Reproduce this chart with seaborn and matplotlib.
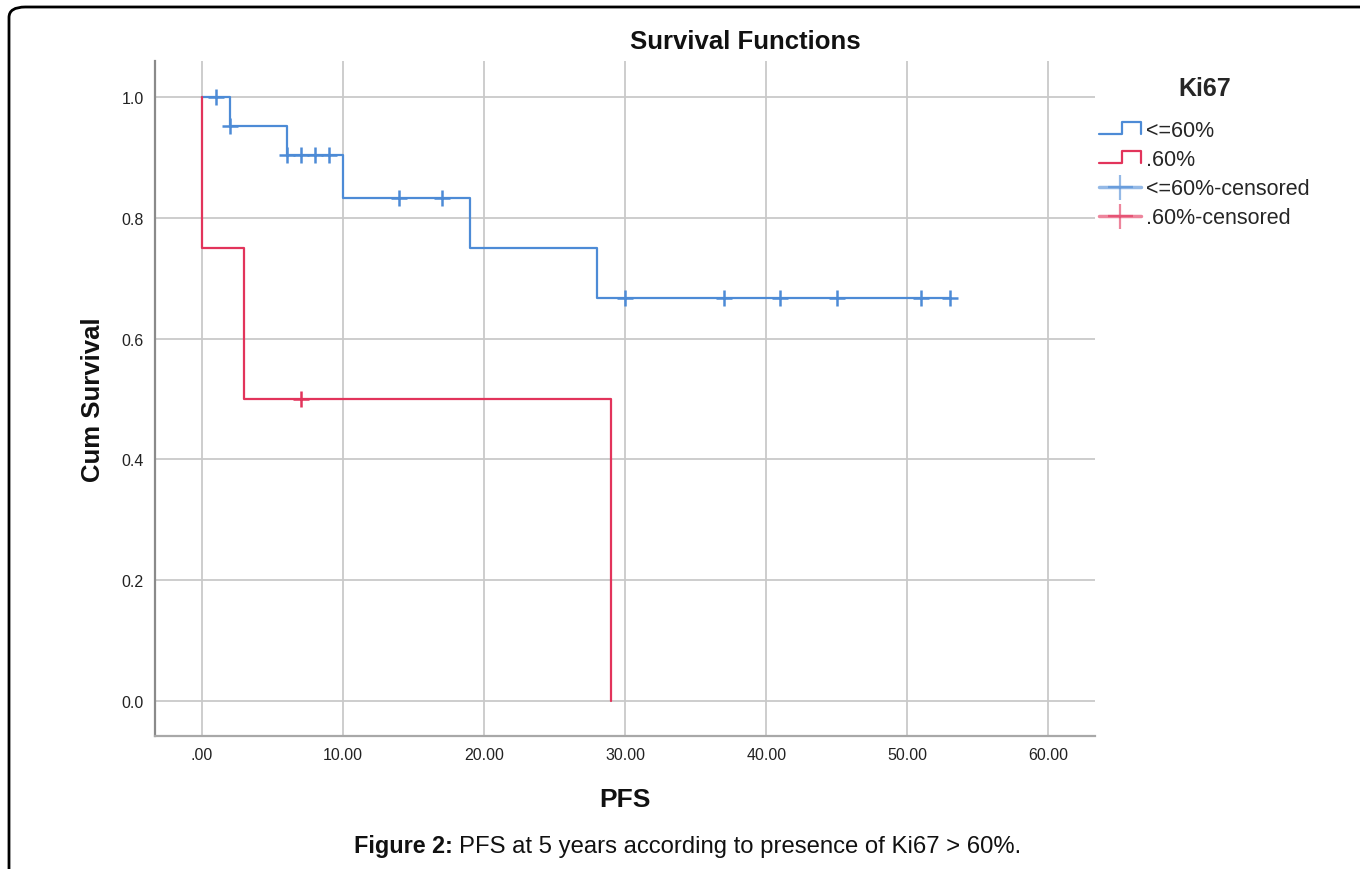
import matplotlib
matplotlib.use("Agg")
import matplotlib.pyplot as plt
import seaborn as sns
import pandas as pd
from matplotlib.lines import Line2D
from matplotlib.legend_handler import HandlerBase
from matplotlib.patches import FancyBboxPatch

# ---- data ----
low_times = [0, 2, 6, 10, 19, 28, 53]
low_surv = [1.0, 0.952, 0.905, 0.833, 0.75, 0.667, 0.667]
low_cens_times = [1, 2, 6, 7, 8, 9, 14, 17, 30, 37, 41, 45, 51, 53]
low_cens_surv = [1.0, 0.952, 0.905, 0.905, 0.905, 0.905, 0.833, 0.833,
                 0.667, 0.667, 0.667, 0.667, 0.667, 0.667]

high_times = [0, 0, 3, 29]
high_surv = [1.0, 0.75, 0.5, 0.0]
high_cens_times = [7]
high_cens_surv = [0.5]

x_ticks = [0, 10, 20, 30, 40, 50, 60]
x_labels = [".00", "10.00", "20.00", "30.00", "40.00", "50.00", "60.00"]
y_ticks = [0.0, 0.2, 0.4, 0.6, 0.8, 1.0]
y_labels = ["0.0", "0.2", "0.4", "0.6", "0.8", "1.0"]
group_names = ["<=60%", ".60%"]

BLUE = "#4d8bd6"
RED = "#e2345b"

sns.set_theme(style="white")
plt.rcParams["font.family"] = ["Liberation Sans", "DejaVu Sans"]

fig = plt.figure(figsize=(13.6, 8.7), dpi=100)
ax = fig.add_axes([155 / 1360, 1 - 737 / 870, 940 / 1360, 675 / 870])

df_low = pd.DataFrame({"t": low_times, "s": low_surv})
df_high = pd.DataFrame({"t": high_times, "s": high_surv})
sns.lineplot(data=df_low, x="t", y="s", ax=ax, color=BLUE, lw=1.6,
             drawstyle="steps-post", estimator=None, sort=False, zorder=3)
sns.lineplot(data=df_high, x="t", y="s", ax=ax, color=RED, lw=1.6,
             drawstyle="steps-post", estimator=None, sort=False, zorder=3)

dfc_low = pd.DataFrame({"t": low_cens_times, "s": low_cens_surv})
dfc_high = pd.DataFrame({"t": high_cens_times, "s": high_cens_surv})
sns.scatterplot(data=dfc_low, x="t", y="s", ax=ax, marker="+", s=130,
                color=BLUE, linewidth=1.8, zorder=4)
sns.scatterplot(data=dfc_high, x="t", y="s", ax=ax, marker="+", s=130,
                color=RED, linewidth=1.8, zorder=4)

ax.set_xlim(-3.33, 63.3)
ax.set_ylim(-0.058, 1.06)
ax.set_xticks(x_ticks)
ax.set_xticklabels(x_labels)
ax.set_yticks(y_ticks)
ax.set_yticklabels(y_labels)
ax.tick_params(axis="both", length=0, labelsize=11.5, colors="#222222", pad=8)
ax.grid(True, color="#c9c9c9", lw=1.3)
ax.set_axisbelow(True)
for side in ["top", "right"]:
    ax.spines[side].set_visible(False)
ax.spines["left"].set_color("#8a8a8a")
ax.spines["left"].set_linewidth(1.6)
ax.spines["bottom"].set_color("#a8a8a8")
ax.spines["bottom"].set_linewidth(1.6)

ax.set_xlabel("PFS", fontsize=19, fontweight="bold", labelpad=18,
              color="#111111")
ax.set_ylabel("Cum Survival", fontsize=18.5, fontweight="bold", labelpad=12,
              color="#111111")

fig.text(745 / 1360, 1 - 42 / 870, "Survival Functions", ha="center",
         va="center", fontsize=18.5, fontweight="bold", color="#111111")


class StepHandler(HandlerBase):
    def create_artists(self, legend, orig_handle, xdescent, ydescent,
                       width, height, fontsize, trans):
        x0 = -xdescent
        y0 = -ydescent
        xs = [x0, x0 + 0.55 * width, x0 + 0.55 * width, x0 + width, x0 + width]
        ys = [y0 + 0.15 * height, y0 + 0.15 * height, y0 + 0.95 * height,
              y0 + 0.95 * height, y0 + 0.15 * height]
        ln = Line2D(xs, ys, color=orig_handle.get_color(), lw=1.6,
                    transform=trans)
        return [ln]


h1 = Line2D([], [], color=BLUE)
h2 = Line2D([], [], color=RED)
h3 = Line2D([], [], color=BLUE, alpha=0.6, lw=2.5, marker="+",
            markersize=18, markeredgewidth=1.6, markeredgecolor=BLUE)
h4 = Line2D([], [], color=RED, alpha=0.6, lw=2.5, marker="+",
            markersize=18, markeredgewidth=1.6, markeredgecolor=RED)

leg = fig.legend([h1, h2, h3, h4],
                 [group_names[0], group_names[1],
                  group_names[0] + "-censored", group_names[1] + "-censored"],
                 handler_map={h1: StepHandler(), h2: StepHandler()},
                 loc="upper left", bbox_to_anchor=(1080 / 1360, 1 - 58 / 870),
                 frameon=False, fontsize=15.5, title="Ki67",
                 handlelength=1.95, handletextpad=0.2, labelspacing=0.38,
                 numpoints=1)
leg.get_title().set_fontsize(18)
leg.get_title().set_fontweight("bold")
leg._legend_box.sep = 14

fig.text(453 / 1360, 1 - 847 / 870, "Figure 2:", ha="right", va="center",
         fontsize=16.8, fontweight="bold", color="#111111")
fig.text(459 / 1360, 1 - 847 / 870,
         "PFS at 5 years according to presence of Ki67 > 60%.",
         ha="left", va="center", fontsize=17.2, color="#111111")

border = FancyBboxPatch((9 / 1360, -0.05), 1.2, 1.05 - 8 / 870,
                        boxstyle="round,pad=0,rounding_size=0.012",
                        transform=fig.transFigure, fill=False, lw=2,
                        ec="black")
fig.patches.append(border)

fig.savefig("out.png", dpi=100)
